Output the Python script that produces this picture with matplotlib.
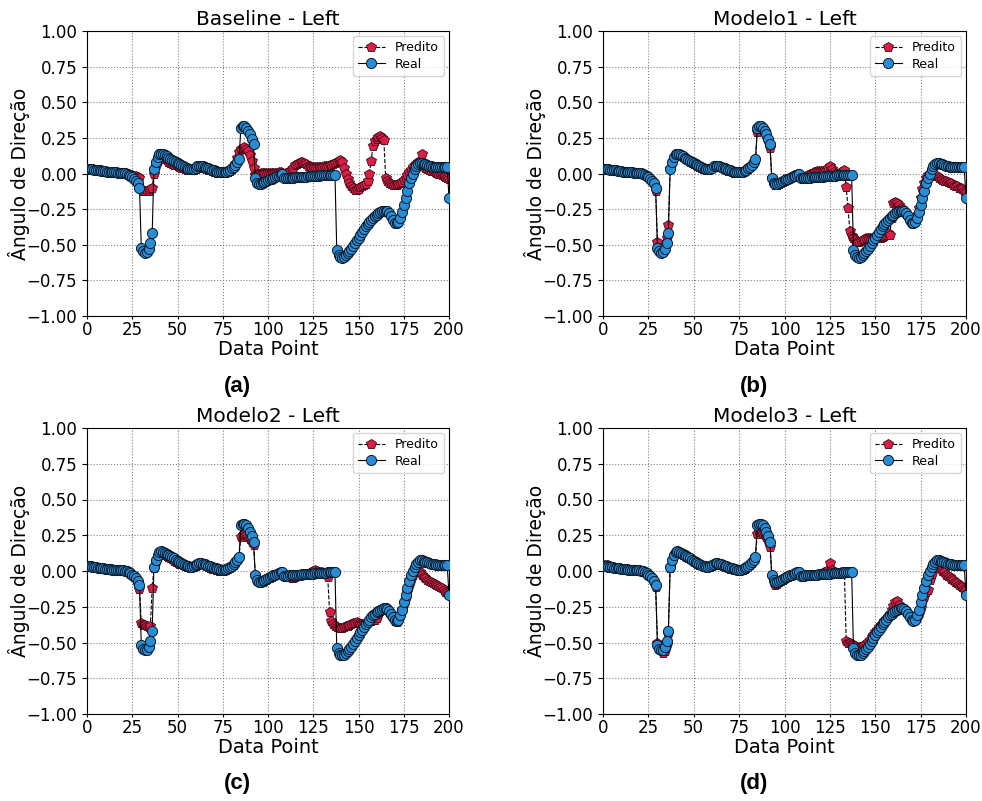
import matplotlib
matplotlib.use("Agg")
import matplotlib.pyplot as plt
import numpy as np

data_points = list(range(201))

real = [
    0.035, 0.034, 0.032, 0.030, 0.028, 0.026, 0.024, 0.022, 0.020, 0.018,
    0.016, 0.014, 0.012, 0.011, 0.010, 0.009, 0.008, 0.007, 0.006, 0.005,
    0.004, 0.002, -0.002, -0.008, -0.016, -0.026, -0.038, -0.052, -0.070, -0.100,
    -0.520, -0.545, -0.555, -0.550, -0.530, -0.490, -0.420, 0.030, 0.080, 0.115,
    0.135, 0.140, 0.135, 0.128, 0.120, 0.112, 0.104, 0.096, 0.088, 0.080,
    0.072, 0.065, 0.058, 0.050, 0.044, 0.038, 0.033, 0.030, 0.030, 0.035,
    0.042, 0.050, 0.055, 0.055, 0.052, 0.047, 0.042, 0.037, 0.032, 0.027,
    0.022, 0.018, 0.014, 0.011, 0.009, 0.008, 0.009, 0.012, 0.018, 0.026,
    0.036, 0.048, 0.062, 0.080, 0.100, 0.320, 0.330, 0.330, 0.320, 0.300,
    0.275, 0.245, 0.205, -0.030, -0.065, -0.075, -0.075, -0.070, -0.062, -0.055,
    -0.048, -0.042, -0.036, -0.030, -0.025, -0.020, -0.015, -0.010, -0.005, -0.035,
    -0.033, -0.032, -0.031, -0.030, -0.029, -0.028, -0.027, -0.026, -0.025, -0.024,
    -0.023, -0.022, -0.021, -0.020, -0.019, -0.018, -0.017, -0.016, -0.015, -0.014,
    -0.013, -0.012, -0.011, -0.010, -0.010, -0.009, -0.009, -0.008, -0.540, -0.570,
    -0.585, -0.590, -0.585, -0.575, -0.560, -0.545, -0.530, -0.510, -0.490, -0.470,
    -0.450, -0.430, -0.410, -0.390, -0.370, -0.355, -0.340, -0.325, -0.310, -0.300,
    -0.290, -0.280, -0.270, -0.265, -0.260, -0.260, -0.265, -0.280, -0.300, -0.325,
    -0.345, -0.350, -0.340, -0.310, -0.270, -0.220, -0.170, -0.120, -0.070, -0.030,
    0.000, 0.030, 0.050, 0.065, 0.075, 0.075, 0.070, 0.065, 0.060, 0.055,
    0.050, 0.048, 0.046, 0.045, 0.045, 0.045, 0.045, 0.045, 0.045, 0.045,
    -0.170,
]

pred_baseline = [
    0.033, 0.032, 0.030, 0.028, 0.026, 0.024, 0.022, 0.020, 0.018, 0.016,
    0.014, 0.012, 0.011, 0.010, 0.009, 0.008, 0.007, 0.006, 0.005, 0.004,
    0.003, 0.002, 0.000, -0.004, -0.008, -0.012, -0.016, -0.020, -0.022, -0.030,
    -0.110, -0.120, -0.125, -0.125, -0.120, -0.110, -0.100, 0.000, 0.050, 0.090,
    0.110, 0.115, 0.110, 0.100, 0.092, 0.084, 0.077, 0.070, 0.063, 0.057,
    0.051, 0.046, 0.041, 0.036, 0.032, 0.028, 0.025, 0.023, 0.023, 0.026,
    0.031, 0.037, 0.042, 0.044, 0.042, 0.038, 0.033, 0.028, 0.023, 0.018,
    0.014, 0.010, 0.007, 0.005, 0.004, 0.004, 0.005, 0.008, 0.013, 0.020,
    0.030, 0.045, 0.065, 0.110, 0.150, 0.170, 0.180, 0.185, 0.175, 0.160,
    0.130, 0.085, 0.040, -0.010, -0.005, 0.000, 0.003, 0.005, 0.006, 0.006,
    0.006, 0.005, 0.005, 0.005, 0.006, 0.007, 0.008, 0.008, 0.005, 0.000,
    0.002, 0.008, 0.015, 0.025, 0.040, 0.058, 0.070, 0.077, 0.082, 0.082,
    0.077, 0.066, 0.056, 0.050, 0.046, 0.045, 0.045, 0.045, 0.046, 0.047,
    0.048, 0.050, 0.052, 0.054, 0.057, 0.060, 0.065, 0.072, 0.080, 0.088,
    0.098, 0.080, 0.040, 0.000, -0.040, -0.070, -0.090, -0.105, -0.115, -0.115,
    -0.108, -0.098, -0.088, -0.080, -0.072, -0.050, 0.000, 0.090, 0.195, 0.230,
    0.245, 0.255, 0.260, 0.250, 0.235, -0.030, -0.055, -0.068, -0.076, -0.080,
    -0.082, -0.080, -0.076, -0.070, -0.060, -0.045, -0.030, -0.010, 0.010, 0.028,
    0.045, 0.058, 0.068, 0.078, 0.090, 0.135, 0.060, 0.042, 0.032, 0.026,
    0.020, 0.015, 0.010, 0.005, 0.000, -0.005, -0.010, -0.018, -0.026, -0.034,
    -0.040,
]

pred_modelo1 = [
    0.034, 0.033, 0.031, 0.029, 0.027, 0.025, 0.023, 0.021, 0.019, 0.017,
    0.015, 0.013, 0.011, 0.010, 0.009, 0.008, 0.007, 0.006, 0.005, 0.004,
    0.003, 0.001, -0.003, -0.009, -0.017, -0.027, -0.039, -0.053, -0.072, -0.120,
    -0.480, -0.520, -0.540, -0.540, -0.510, -0.450, -0.360, 0.030, 0.075, 0.108,
    0.128, 0.135, 0.131, 0.124, 0.116, 0.108, 0.100, 0.092, 0.084, 0.076,
    0.068, 0.061, 0.054, 0.047, 0.041, 0.035, 0.030, 0.027, 0.027, 0.031,
    0.038, 0.046, 0.051, 0.052, 0.049, 0.044, 0.038, 0.032, 0.026, 0.020,
    0.015, 0.010, 0.006, 0.004, 0.003, 0.003, 0.005, 0.009, 0.015, 0.023,
    0.033, 0.045, 0.058, 0.075, 0.095, 0.290, 0.310, 0.315, 0.305, 0.285,
    0.260, 0.225, 0.180, -0.035, -0.068, -0.078, -0.078, -0.072, -0.064, -0.057,
    -0.050, -0.044, -0.038, -0.032, -0.022, -0.012, -0.008, -0.005, -0.002, -0.030,
    -0.030, -0.028, -0.020, -0.010, -0.005, 0.000, 0.008, 0.012, 0.015, 0.018,
    0.020, 0.015, 0.010, 0.020, 0.040, 0.055, 0.030, 0.010, 0.000, -0.005,
    0.000, 0.010, 0.020, 0.025, -0.095, -0.245, -0.400, -0.440, -0.455, -0.470,
    -0.480, -0.482, -0.475, -0.468, -0.462, -0.455, -0.450, -0.450, -0.452, -0.455,
    -0.456, -0.455, -0.452, -0.450, -0.448, -0.440, -0.430, -0.420, -0.430, -0.310,
    -0.210, -0.200, -0.205, -0.220, -0.240, -0.258, -0.270, -0.285, -0.300, -0.320,
    -0.338, -0.342, -0.325, -0.290, -0.240, -0.175, -0.110, -0.065, -0.035, -0.012,
    0.000, -0.005, -0.010, -0.015, -0.020, -0.030, -0.040, -0.045, -0.050, -0.055,
    -0.060, -0.065, -0.070, -0.080, -0.085, -0.090, -0.100, -0.105, -0.110, -0.120,
    -0.130,
]

pred_modelo2 = [
    0.033, 0.032, 0.030, 0.028, 0.026, 0.024, 0.022, 0.020, 0.018, 0.016,
    0.014, 0.012, 0.011, 0.010, 0.009, 0.008, 0.007, 0.006, 0.005, 0.004,
    0.003, 0.001, -0.003, -0.010, -0.018, -0.028, -0.040, -0.055, -0.095, -0.125,
    -0.365, -0.375, -0.380, -0.385, -0.390, -0.385, -0.120, 0.020, 0.065, 0.100,
    0.118, 0.124, 0.120, 0.113, 0.105, 0.097, 0.089, 0.081, 0.073, 0.066,
    0.059, 0.052, 0.046, 0.040, 0.035, 0.030, 0.026, 0.024, 0.025, 0.030,
    0.036, 0.043, 0.048, 0.049, 0.046, 0.041, 0.035, 0.029, 0.023, 0.017,
    0.012, 0.008, 0.005, 0.003, 0.002, 0.002, 0.004, 0.008, 0.014, 0.022,
    0.032, 0.044, 0.058, 0.075, 0.095, 0.240, 0.255, 0.258, 0.250, 0.240,
    0.225, 0.205, 0.185, -0.030, -0.068, -0.080, -0.080, -0.075, -0.068, -0.060,
    -0.052, -0.046, -0.040, -0.034, -0.028, -0.022, -0.017, -0.012, -0.008, -0.038,
    -0.040, -0.042, -0.045, -0.050, -0.048, -0.040, -0.032, -0.028, -0.026, -0.024,
    -0.022, -0.020, -0.018, -0.015, -0.010, 0.000, 0.010, 0.002, -0.005, -0.008,
    -0.010, -0.012, -0.015, -0.040, -0.285, -0.350, -0.370, -0.385, -0.392, -0.398,
    -0.400, -0.400, -0.395, -0.388, -0.382, -0.378, -0.372, -0.366, -0.362, -0.360,
    -0.362, -0.368, -0.372, -0.368, -0.362, -0.356, -0.352, -0.348, -0.345, -0.342,
    -0.330, -0.300, -0.280, -0.272, -0.268, -0.268, -0.275, -0.290, -0.310, -0.332,
    -0.350, -0.355, -0.345, -0.315, -0.275, -0.230, -0.190, -0.150, -0.105, -0.065,
    -0.025, 0.010, 0.040, 0.020, -0.005, -0.025, -0.040, -0.052, -0.062, -0.070,
    -0.078, -0.085, -0.092, -0.100, -0.107, -0.113, -0.120, -0.130, -0.145, -0.155,
    -0.160,
]

pred_modelo3 = [
    0.045, 0.045, 0.043, 0.040, 0.036, 0.031, 0.027, 0.024, 0.021, 0.019,
    0.016, 0.014, 0.012, 0.011, 0.010, 0.009, 0.008, 0.007, 0.006, 0.005,
    0.004, 0.002, -0.002, -0.008, -0.016, -0.026, -0.038, -0.052, -0.075, -0.110,
    -0.500, -0.530, -0.555, -0.575, -0.560, -0.520, -0.440, 0.020, 0.072, 0.108,
    0.128, 0.134, 0.129, 0.122, 0.114, 0.106, 0.098, 0.090, 0.082, 0.074,
    0.066, 0.059, 0.052, 0.045, 0.039, 0.033, 0.028, 0.025, 0.025, 0.030,
    0.037, 0.045, 0.050, 0.050, 0.047, 0.042, 0.036, 0.030, 0.025, 0.020,
    0.015, 0.011, 0.008, 0.006, 0.005, 0.005, 0.006, 0.009, 0.015, 0.023,
    0.033, 0.045, 0.058, 0.075, 0.095, 0.260, 0.275, 0.270, 0.260, 0.250,
    0.235, 0.210, 0.170, -0.035, -0.085, -0.095, -0.090, -0.080, -0.070, -0.060,
    -0.052, -0.045, -0.039, -0.033, -0.027, -0.022, -0.017, -0.012, -0.007, -0.036,
    -0.034, -0.033, -0.032, -0.031, -0.030, -0.029, -0.028, -0.027, -0.026, -0.024,
    -0.020, -0.015, -0.010, -0.005, 0.010, 0.055, 0.010, -0.010, -0.012, -0.012,
    -0.011, -0.010, -0.008, -0.005, -0.490, -0.500, -0.505, -0.510, -0.518, -0.525,
    -0.530, -0.532, -0.530, -0.525, -0.520, -0.508, -0.495, -0.480, -0.462, -0.445,
    -0.428, -0.410, -0.395, -0.380, -0.365, -0.350, -0.335, -0.320, -0.300, -0.275,
    -0.245, -0.220, -0.210, -0.240, -0.258, -0.265, -0.272, -0.285, -0.300, -0.322,
    -0.340, -0.348, -0.345, -0.330, -0.300, -0.260, -0.215, -0.180, -0.150, -0.130,
    -0.060, -0.020, 0.020, 0.040, 0.045, 0.040, 0.020, 0.000, -0.010, -0.025,
    -0.035, -0.045, -0.055, -0.065, -0.075, -0.085, -0.095, -0.105, -0.115, -0.125,
    -0.135,
]

titles = ["Baseline - Left", "Modelo1 - Left", "Modelo2 - Left", "Modelo3 - Left"]
panel_labels = ["(a)", "(b)", "(c)", "(d)"]
predictions = [pred_baseline, pred_modelo1, pred_modelo2, pred_modelo3]
xticks = [0, 25, 50, 75, 100, 125, 150, 175, 200]
yticks = [-1.00, -0.75, -0.50, -0.25, 0.00, 0.25, 0.50, 0.75, 1.00]

W, H = 982, 801
fig = plt.figure(figsize=(W / 100, H / 100), dpi=100)

# axes pixel boxes: (left, top, right, bottom)
boxes = [(87, 31, 449, 316), (603, 31, 966, 316),
         (87, 428, 449, 714), (603, 428, 966, 714)]
label_pos = [(237, 386), (754, 386), (237, 784), (754, 784)]

red = "#dc1e46"
blue = "#2a8cd4"

for i in range(4):
    l, t, r, b = boxes[i]
    ax = fig.add_axes([l / W, 1 - b / H, (r - l) / W, (b - t) / H])
    ax.plot(data_points, predictions[i], linestyle="--", color="black", linewidth=0.8,
            marker="p", markersize=7, markerfacecolor=red, markeredgecolor="#3a0a14",
            markeredgewidth=0.6, label="Predito", zorder=2)
    ax.plot(data_points, real, linestyle="-", color="black", linewidth=0.8,
            marker="o", markersize=7.3, markerfacecolor=blue, markeredgecolor="#0a1a2a",
            markeredgewidth=0.7, label="Real", zorder=3)
    ax.set_xlim(0, 200)
    ax.set_ylim(-1, 1)
    ax.set_xticks(xticks)
    ax.set_yticks(yticks)
    ax.set_yticklabels([f"{v:.2f}".replace("-", "\u2212") for v in yticks])
    ax.tick_params(labelsize=12)
    ax.tick_params(axis="x", length=2.5, pad=1.0)
    ax.grid(True, linestyle=":", color="gray", linewidth=0.8)
    ax.set_axisbelow(True)
    ax.set_title(titles[i], fontsize=14.5, pad=4.5)
    ax.set_xlabel("Data Point", fontsize=14, labelpad=1)
    ax.set_ylabel("Ângulo de Direção", fontsize=13.5)
    ax.yaxis.set_label_coords(-0.158, 0.5)
    ax.legend(loc="upper right", fontsize=9, framealpha=0.8, handlelength=2.2,
              labelspacing=0.3, borderaxespad=0.4)
    fig.text(label_pos[i][0] / W, 1 - label_pos[i][1] / H, panel_labels[i],
             ha="center", va="center", fontsize=16, fontweight="bold",
             family="Liberation Sans")

fig.savefig("out.png", dpi=100)
